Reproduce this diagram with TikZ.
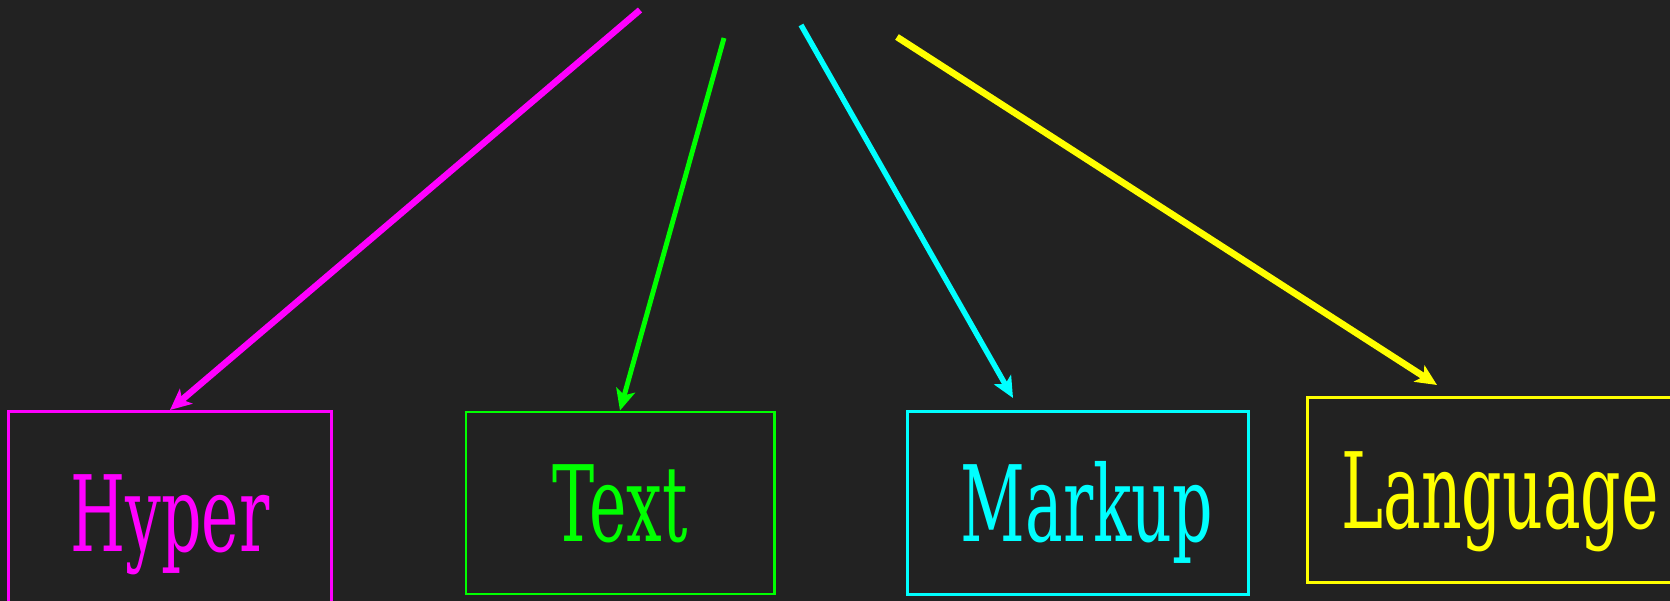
\documentclass[tikz,border=0pt]{standalone}
\usepackage{fontspec}
\setmainfont{DejaVu Serif}[FakeStretch=0.6]
\usetikzlibrary{shapes,arrows.meta,positioning}
\definecolor{bg}{HTML}{222222}
\definecolor{pink}{HTML}{FF00FF}
\definecolor{lime}{HTML}{00FF00}
\definecolor{aqua}{HTML}{00FFFF}
\definecolor{gold}{HTML}{FFFF00}

\begin{document}
\begin{tikzpicture}[% 1 unit = 0.2mm, y counted from the bottom edge
		x=0.2mm,y=0.2mm,
		every node/.style={
			rectangle,
			align=center,
			line width=1.7pt,
			inner sep=0pt,
			text height=43.8pt,	% cap height only, so the word sits in the middle
			text depth=0pt,
			font=\fontsize{60}{70}\selectfont
		},
		every edge/.style={draw},
		tip/.style={-{Stealth[length=12pt,width=11pt,inset=3pt]}}
	]
	\fill[bg] (0,0) rectangle (1670,601);
	\useasboundingbox (0,0) rectangle (1670,601);

	\node[draw=pink,text=pink,minimum width=64.6mm,minimum height=40.6mm](R1) at (170,88) {Hyper};
	\node[draw=lime,text=lime,minimum width=61.6mm,minimum height=36.4mm](R2) at (620,98) {Text};
	\node[draw=aqua,text=aqua,minimum width=68.2mm,minimum height=36.6mm](R3) at (1078,98) {\hspace{10pt}Markup};
	\node[draw=gold,text=gold,minimum width=77.2mm,minimum height=37mm](R4) at (1500,111) {Language};

	% loose ends of the four arrows
	\coordinate (C1) at (640,591);
	\coordinate (C2) at (724,563);
	\coordinate (C3) at (801,576);
	\coordinate (C4) at (897,564);
	\coordinate (E3) at (1013,203);
	\coordinate (E4) at (1437,216);

	\path[tip]
	(C1)edge [draw=pink,line width=3.7pt] (R1.north)
	(C2)edge [draw=lime,line width=2.8pt] (R2.north)
	(C3)edge [draw=aqua,line width=3.1pt] (E3)
	(C4)edge [draw=gold,line width=3.8pt] (E4)
	;
\end{tikzpicture}
\end{document}
